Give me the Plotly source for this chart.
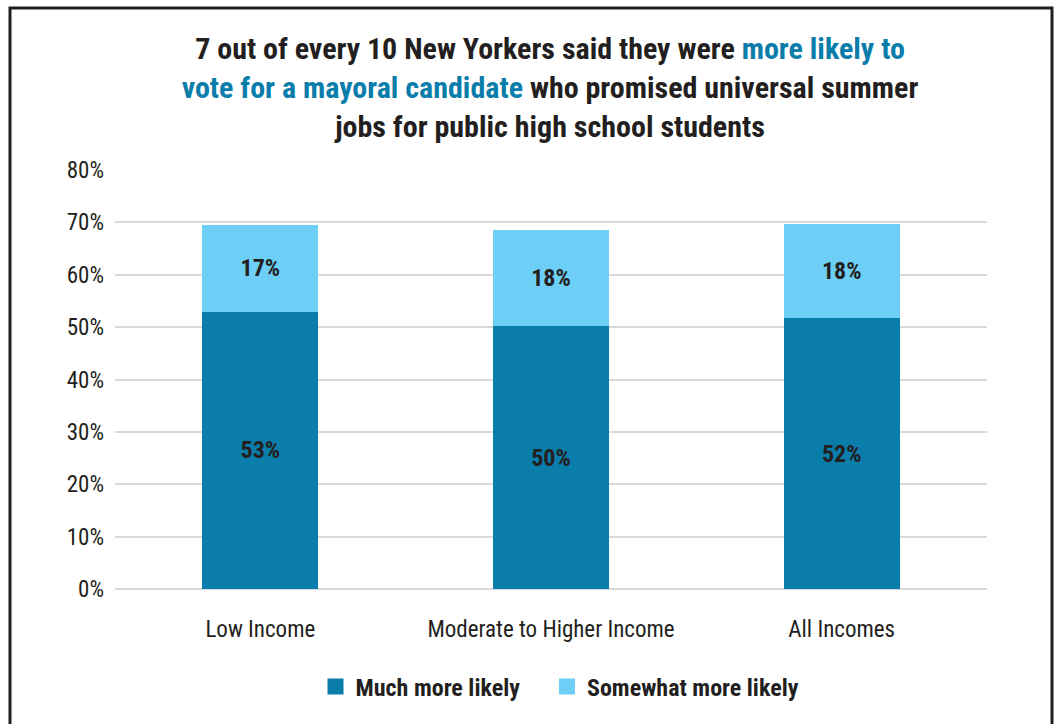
import plotly.graph_objects as go

categories = ["Low Income", "Moderate to Higher Income", "All Incomes"]
much_more = [52.9, 50.2, 51.7]
somewhat_more = [16.6, 18.3, 18.0]
much_labels = ["53%", "50%", "52%"]
somewhat_labels = ["17%", "18%", "18%"]
series_names = ["Much more likely", "Somewhat more likely"]
y_ticks = [0, 10, 20, 30, 40, 50, 60, 70, 80]
y_tick_labels = [f"{v}%" for v in y_ticks]
title_text = (
    "7 out of every 10 New Yorkers said they were <span style='color:#0a7dab'>more likely to</span><br>"
    "<span style='color:#0a7dab'>vote for a mayoral candidate</span> who promised universal summer<br>"
    "jobs for public high school students"
)

FONT = "Roboto Condensed, Liberation Sans Narrow, Arial Narrow, Roboto, Arial, sans-serif"
DARK = "#0a7dab"
LIGHT = "#6dcff6"
TXT = "#231f20"

fig = go.Figure()
for vals, labs, col in [(much_more, much_labels, DARK), (somewhat_more, somewhat_labels, LIGHT)]:
    fig.add_trace(go.Bar(
        x=categories, y=vals, showlegend=False,
        marker=dict(color=col, line=dict(width=0)),
        text=labs, texttemplate="<b>%{text}</b>", textposition="inside",
        insidetextanchor="middle", textangle=0,
        textfont=dict(family=FONT, size=24, color=TXT), hoverinfo="skip",
    ))
# legend entries with larger square symbols
pads = ["\u00a0" * 4, ""]
for name, col, pad in zip(series_names, [DARK, LIGHT], pads):
    fig.add_trace(go.Scatter(
        x=[None], y=[None], mode="markers", name=f"<b>{name}</b>{pad}",
        marker=dict(symbol="square", size=20, color=col), hoverinfo="skip",
    ))

L, W, B, H = 115, 872, 589, 419
fig.update_layout(
    width=1057, height=724,
    margin=dict(l=L, r=1057 - L - W, t=B - H, b=724 - B),
    paper_bgcolor="white", plot_bgcolor="white",
    barmode="stack", bargap=0.6,
    font=dict(family=FONT, color=TXT, size=20),
    title=dict(text=f"<b>{title_text}</b>", xref="paper", x=(550 - L) / W,
               xanchor="center", yref="container", y=1 - 59 / 724, yanchor="middle",
               font=dict(family=FONT, size=30, color=TXT)),
    showlegend=True,
    legend=dict(orientation="h", x=(560 - L) / W, xanchor="center",
                y=(B - 687) / H, yanchor="middle",
                font=dict(family=FONT, size=24, color=TXT),
                traceorder="normal", itemsizing="trace"),
    shapes=[dict(type="rect", xref="paper", yref="paper",
                 x0=(10 - L) / W, x1=(1052 - L) / W,
                 y0=-0.5, y1=(B - 8) / H,
                 line=dict(color="#231f20", width=3), fillcolor="rgba(0,0,0,0)",
                 layer="below")],
)
fig.update_yaxes(range=[0, 80], tickvals=y_ticks, ticktext=y_tick_labels,
                 showgrid=True, gridcolor="#d9d9d9", gridwidth=1.5,
                 zeroline=True, zerolinecolor="#d9d9d9", zerolinewidth=1.5,
                 showline=False, ticks="", ticklabelstandoff=10,
                 tickfont=dict(family=FONT, size=23, color=TXT))
fig.update_xaxes(showgrid=False, showline=False, ticks="", ticklabelstandoff=24,
                 tickfont=dict(family=FONT, size=23, color=TXT))

fig.write_html("out.html")
